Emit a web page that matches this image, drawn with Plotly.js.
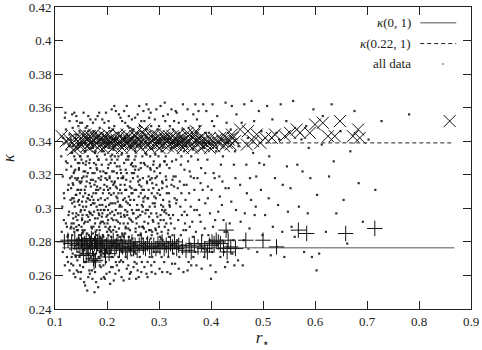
<!DOCTYPE html>
<html><head><meta charset="utf-8">
<script src="https://cdn.plot.ly/plotly-3.0.1.min.js"></script>
<style>html,body{margin:0;padding:0;background:#fff}#chart{width:482px;height:350px}</style>
</head><body><div id="chart"></div>
<script>
// all data: scattered (r*, kappa) points
const dotPairs = [
[0.117,0.309],[0.124,0.283],[0.112,0.331],[0.128,0.263],[0.121,0.347],[0.126,0.296],[0.115,0.274],[0.129,0.318],[0.119,0.354],[0.123,0.289],[0.127,0.337],[0.114,0.301],[0.125,0.268],[0.122,0.323],[0.118,0.279],[0.130,0.305],[0.116,0.342],[0.126,0.314],[0.121,0.291],[0.128,0.352],[0.113,0.286],[0.124,0.327],[0.119,0.266],[0.127,0.298],[0.122,0.335],[0.129,0.276],[0.115,0.319],[0.120,0.357],[0.125,0.284],[0.118,0.306],[0.123,0.271],[0.128,0.344],[0.117,0.293],[0.125,0.311],[0.121,0.328],[0.130,0.288],
[0.134,0.297],[0.142,0.263],[0.137,0.331],[0.148,0.284],[0.131,0.312],[0.145,0.349],[0.139,0.272],[0.133,0.356],[0.146,0.305],[0.141,0.289],[0.136,0.321],[0.149,0.258],[0.132,0.278],[0.144,0.338],[0.138,0.301],[0.147,0.316],[0.135,0.266],[0.143,0.293],[0.140,0.344],[0.131,0.325],[0.148,0.309],[0.137,0.286],[0.145,0.274],[0.133,0.303],[0.142,0.352],[0.139,0.318],[0.146,0.290],[0.134,0.337],[0.150,0.281],[0.136,0.261],[0.144,0.327],[0.141,0.308],[0.132,0.291],[0.147,0.346],[0.138,0.276],[0.135,0.314],[0.149,0.298],[0.143,0.269],[0.131,0.341],[0.140,0.295],[0.146,0.323],[0.137,0.357],[0.133,0.284],[0.148,0.331],[0.142,0.279],[0.136,0.306],[0.145,0.262],[0.139,0.329],[0.134,0.273],[0.147,0.302],[0.141,0.355],[0.132,0.319],[0.144,0.287],[0.138,0.342],[0.149,0.315],[0.135,0.294],[0.143,0.311],[0.131,0.267],[0.146,0.282],[0.137,0.322],[0.140,0.271],[0.148,0.351],[0.133,0.333],[0.145,0.296],[0.136,0.288],[0.142,0.317],[0.139,0.259],[0.147,0.327],[0.134,0.348],[0.144,0.304],
[0.163,0.331],[0.151,0.289],[0.158,0.254],[0.169,0.302],[0.155,0.344],[0.166,0.277],[0.152,0.318],[0.161,0.296],[0.157,0.268],[0.168,0.353],[0.154,0.307],[0.165,0.284],[0.159,0.326],[0.150,0.262],[0.167,0.315],[0.156,0.291],[0.162,0.349],[0.153,0.275],[0.170,0.336],[0.158,0.309],[0.164,0.259],[0.151,0.329],[0.160,0.281],[0.166,0.298],[0.155,0.357],[0.169,0.271],[0.152,0.304],[0.163,0.321],[0.157,0.287],[0.161,0.342],[0.154,0.265],[0.167,0.293],[0.159,0.313],[0.150,0.339],[0.165,0.308],[0.156,0.278],[0.168,0.324],[0.153,0.296],[0.162,0.251],[0.158,0.334],[0.170,0.289],[0.155,0.319],[0.164,0.346],[0.151,0.273],[0.160,0.301],[0.166,0.263],[0.157,0.311],[0.169,0.283],[0.152,0.351],[0.163,0.292],[0.159,0.268],[0.154,0.327],[0.167,0.305],[0.161,0.316],[0.156,0.256],[0.165,0.338],[0.153,0.285],[0.168,0.297],[0.158,0.322],[0.162,0.279],[0.150,0.311],[0.164,0.355],[0.157,0.299],[0.169,0.317],[0.155,0.282],[0.160,0.328],[0.166,0.270],[0.152,0.294],[0.163,0.306],[0.159,0.348],[0.154,0.286],[0.167,0.261],
[0.176,0.303],[0.184,0.271],[0.171,0.339],[0.189,0.292],[0.179,0.256],[0.173,0.317],[0.186,0.348],[0.181,0.284],[0.175,0.327],[0.188,0.265],[0.172,0.296],[0.183,0.311],[0.178,0.353],[0.185,0.279],[0.174,0.289],[0.190,0.334],[0.180,0.301],[0.177,0.262],[0.187,0.322],[0.182,0.294],[0.171,0.276],[0.184,0.343],[0.176,0.314],[0.189,0.258],[0.173,0.351],[0.186,0.287],[0.179,0.309],[0.175,0.268],[0.181,0.331],[0.188,0.299],[0.172,0.321],[0.183,0.253],[0.178,0.286],[0.185,0.357],[0.174,0.305],[0.190,0.274],[0.180,0.324],[0.177,0.291],[0.187,0.312],[0.182,0.339],[0.171,0.263],[0.184,0.297],[0.176,0.281],[0.189,0.319],[0.173,0.336],[0.186,0.266],[0.179,0.345],[0.175,0.298],[0.181,0.277],[0.188,0.306],[0.172,0.258],[0.183,0.329],[0.178,0.316],[0.185,0.289],[0.174,0.346],[0.190,0.295],[0.180,0.269],[0.177,0.333],[0.187,0.283],[0.182,0.355],[0.171,0.307],[0.184,0.318],[0.176,0.250],[0.189,0.341],[0.173,0.285],[0.186,0.302],[0.179,0.326],[0.175,0.272],[0.181,0.313],[0.188,0.282],
[0.197,0.318],[0.205,0.287],[0.192,0.344],[0.209,0.271],[0.201,0.306],[0.194,0.259],[0.207,0.331],[0.199,0.295],[0.203,0.352],[0.191,0.279],[0.206,0.312],[0.196,0.337],[0.210,0.298],[0.193,0.266],[0.202,0.324],[0.208,0.283],[0.198,0.357],[0.204,0.302],[0.195,0.291],[0.200,0.274],[0.207,0.346],[0.192,0.309],[0.205,0.262],[0.199,0.329],[0.203,0.288],[0.191,0.353],[0.209,0.316],[0.196,0.281],[0.201,0.339],[0.194,0.299],[0.206,0.255],[0.197,0.321],[0.210,0.277],[0.202,0.293],[0.193,0.334],[0.208,0.308],[0.198,0.268],[0.204,0.348],[0.195,0.314],[0.200,0.286],[0.191,0.297],[0.207,0.327],[0.203,0.273],[0.196,0.305],[0.209,0.359],[0.192,0.284],[0.205,0.319],[0.199,0.261],[0.201,0.296],[0.194,0.341],[0.206,0.289],[0.197,0.276],[0.210,0.332],[0.202,0.311],[0.193,0.322],[0.208,0.265],[0.198,0.301],[0.204,0.336],[0.195,0.351],[0.200,0.317],[0.192,0.292],[0.207,0.303],[0.203,0.326],[0.196,0.258],[0.209,0.294],[0.199,0.343],
[0.214,0.296],[0.222,0.331],[0.217,0.268],[0.228,0.309],[0.211,0.347],[0.225,0.283],[0.219,0.321],[0.213,0.257],[0.226,0.354],[0.221,0.292],[0.216,0.338],[0.229,0.274],[0.212,0.314],[0.224,0.301],[0.218,0.286],[0.227,0.343],[0.215,0.327],[0.223,0.263],[0.220,0.306],[0.211,0.279],[0.228,0.318],[0.217,0.358],[0.225,0.291],[0.213,0.335],[0.222,0.271],[0.219,0.312],[0.226,0.297],[0.214,0.349],[0.230,0.284],[0.216,0.261],[0.224,0.325],[0.221,0.304],[0.212,0.293],[0.227,0.269],[0.218,0.341],[0.215,0.316],[0.229,0.352],[0.223,0.288],[0.211,0.303],[0.220,0.329],[0.226,0.276],[0.217,0.299],[0.213,0.322],[0.228,0.259],[0.222,0.345],[0.216,0.281],[0.225,0.311],[0.219,0.266],[0.214,0.361],[0.227,0.295],[0.221,0.318],[0.212,0.337],[0.224,0.279],[0.218,0.307],[0.229,0.333],[0.215,0.289],[0.223,0.356],[0.211,0.265],[0.226,0.323],[0.220,0.284],[0.217,0.313],[0.228,0.301],
[0.236,0.323],[0.244,0.287],[0.231,0.305],[0.249,0.346],[0.238,0.264],[0.242,0.331],[0.234,0.295],[0.247,0.312],[0.233,0.358],[0.245,0.276],[0.239,0.339],[0.232,0.283],[0.248,0.299],[0.237,0.317],[0.243,0.258],[0.235,0.351],[0.246,0.326],[0.240,0.291],[0.231,0.268],[0.249,0.309],[0.238,0.344],[0.244,0.302],[0.233,0.327],[0.247,0.272],[0.236,0.289],[0.242,0.355],[0.234,0.314],[0.245,0.336],[0.239,0.279],[0.250,0.297],[0.232,0.341],[0.241,0.266],[0.237,0.304],[0.248,0.321],[0.235,0.285],[0.243,0.348],[0.246,0.293],[0.231,0.319],[0.240,0.331],[0.244,0.261],[0.233,0.296],[0.249,0.282],[0.238,0.361],[0.236,0.271],[0.247,0.337],[0.242,0.307],[0.234,0.342],[0.245,0.316],[0.239,0.298],[0.232,0.257],[0.248,0.353],[0.241,0.288],[0.237,0.329],[0.243,0.275],[0.235,0.311],[0.246,0.262],[0.250,0.325],[0.240,0.349],
[0.253,0.311],[0.262,0.276],[0.257,0.342],[0.268,0.298],[0.251,0.265],[0.265,0.327],[0.259,0.356],[0.255,0.288],[0.266,0.313],[0.261,0.259],[0.254,0.334],[0.269,0.282],[0.258,0.302],[0.263,0.349],[0.252,0.321],[0.267,0.268],[0.256,0.294],[0.264,0.338],[0.260,0.316],[0.270,0.306],[0.253,0.274],[0.262,0.361],[0.257,0.291],[0.268,0.331],[0.251,0.347],[0.265,0.285],[0.259,0.263],[0.255,0.325],[0.266,0.352],[0.261,0.299],[0.254,0.279],[0.269,0.318],[0.258,0.337],[0.263,0.271],[0.252,0.305],[0.267,0.343],[0.256,0.258],[0.264,0.296],[0.260,0.284],[0.270,0.358],[0.253,0.329],[0.262,0.314],[0.257,0.267],[0.268,0.289],[0.251,0.297],[0.265,0.309],[0.259,0.345],[0.255,0.273],[0.266,0.262],[0.261,0.323],[0.254,0.354],[0.269,0.301],
[0.274,0.297],[0.283,0.331],[0.278,0.268],[0.289,0.312],[0.272,0.352],[0.286,0.284],[0.280,0.319],[0.276,0.261],[0.287,0.343],[0.281,0.295],[0.273,0.326],[0.290,0.274],[0.279,0.306],[0.284,0.357],[0.271,0.288],[0.288,0.336],[0.277,0.315],[0.285,0.266],[0.282,0.301],[0.275,0.347],[0.289,0.292],[0.273,0.279],[0.280,0.339],[0.286,0.309],[0.278,0.259],[0.284,0.323],[0.271,0.311],[0.287,0.286],[0.276,0.362],[0.282,0.271],[0.290,0.328],[0.274,0.333],[0.279,0.291],[0.285,0.349],[0.272,0.265],[0.288,0.303],[0.277,0.282],[0.283,0.317],[0.275,0.299],[0.281,0.354],[0.286,0.262],[0.273,0.307],[0.289,0.341],[0.278,0.325],[0.284,0.287],[0.276,0.276],[0.280,0.359],[0.287,0.315],
[0.293,0.318],[0.302,0.283],[0.297,0.347],[0.308,0.301],[0.291,0.268],[0.305,0.334],[0.299,0.291],[0.295,0.359],[0.306,0.262],[0.301,0.325],[0.294,0.306],[0.309,0.278],[0.298,0.339],[0.303,0.296],[0.292,0.353],[0.307,0.315],[0.296,0.274],[0.304,0.344],[0.300,0.289],[0.310,0.328],[0.293,0.261],[0.302,0.308],[0.297,0.285],[0.308,0.355],[0.291,0.322],[0.305,0.271],[0.299,0.331],[0.295,0.297],[0.306,0.312],[0.301,0.264],[0.294,0.342],[0.309,0.293],[0.298,0.277],[0.303,0.361],[0.292,0.303],[0.307,0.336],[0.296,0.319],[0.304,0.282],[0.300,0.349],[0.310,0.268],[0.293,0.288],[0.302,0.326],[0.297,0.309],[0.306,0.299],
[0.314,0.297],[0.323,0.336],[0.318,0.271],[0.329,0.313],[0.312,0.352],[0.326,0.284],[0.320,0.324],[0.316,0.262],[0.327,0.347],[0.321,0.301],[0.313,0.331],[0.330,0.279],[0.319,0.309],[0.324,0.359],[0.311,0.289],[0.328,0.319],[0.317,0.342],[0.325,0.267],[0.322,0.294],[0.315,0.326],[0.329,0.352],[0.313,0.276],[0.320,0.304],[0.326,0.339],[0.318,0.287],[0.324,0.314],[0.311,0.363],[0.327,0.296],[0.316,0.344],[0.322,0.261],[0.330,0.306],[0.314,0.317],[0.319,0.283],[0.325,0.328],[0.312,0.299],[0.328,0.273],[0.317,0.356],[0.323,0.291],[0.315,0.309],[0.321,0.349],
[0.336,0.312],[0.344,0.278],[0.331,0.341],[0.349,0.298],[0.338,0.264],[0.342,0.326],[0.334,0.357],[0.347,0.287],[0.333,0.303],[0.345,0.347],[0.339,0.271],[0.332,0.319],[0.348,0.334],[0.337,0.293],[0.343,0.309],[0.335,0.281],[0.346,0.362],[0.340,0.316],[0.331,0.267],[0.349,0.323],[0.338,0.351],[0.344,0.296],[0.333,0.329],[0.347,0.262],[0.336,0.338],[0.342,0.284],[0.334,0.305],[0.345,0.274],[0.339,0.345],[0.350,0.291],[0.332,0.358],[0.341,0.301],[0.337,0.276],[0.348,0.314],[0.343,0.331],
[0.354,0.296],[0.362,0.331],[0.357,0.268],[0.368,0.311],[0.351,0.352],[0.365,0.283],[0.359,0.322],[0.355,0.263],[0.366,0.356],[0.361,0.301],[0.353,0.337],[0.369,0.274],[0.358,0.309],[0.363,0.345],[0.352,0.287],[0.367,0.318],[0.356,0.328],[0.364,0.292],[0.360,0.279],[0.370,0.362],[0.353,0.314],[0.362,0.266],[0.357,0.348],[0.368,0.299],[0.351,0.305],[0.365,0.335],[0.359,0.289],[0.355,0.359],[0.366,0.271],[0.361,0.319],
[0.374,0.318],[0.383,0.284],[0.378,0.349],[0.389,0.303],[0.372,0.266],[0.386,0.336],[0.380,0.292],[0.376,0.358],[0.387,0.271],[0.381,0.324],[0.373,0.299],[0.390,0.345],[0.379,0.278],[0.384,0.311],[0.371,0.341],[0.388,0.288],[0.377,0.305],[0.385,0.362],[0.382,0.264],[0.375,0.329],[0.389,0.321],[0.373,0.353],[0.380,0.315],[0.386,0.276],[0.378,0.296],[0.384,0.339],[0.371,0.286],
[0.394,0.306],[0.402,0.274],[0.397,0.339],[0.408,0.293],[0.391,0.358],[0.405,0.321],[0.399,0.266],[0.395,0.284],[0.406,0.349],[0.401,0.311],[0.393,0.329],[0.409,0.262],[0.398,0.297],[0.403,0.362],[0.392,0.275],[0.407,0.318],[0.396,0.345],[0.404,0.289],[0.400,0.258],[0.410,0.334],[0.394,0.313],[0.402,0.352],[0.398,0.281],
[0.414,0.298],[0.423,0.331],[0.418,0.271],[0.428,0.312],[0.412,0.355],[0.426,0.286],[0.420,0.341],[0.416,0.319],[0.427,0.265],[0.421,0.302],[0.413,0.278],[0.430,0.351],[0.419,0.326],[0.424,0.293],[0.411,0.336],[0.428,0.363],[0.417,0.307],[0.425,0.274],[0.422,0.316],
[0.434,0.312],[0.443,0.281],[0.438,0.347],[0.448,0.299],[0.432,0.268],[0.446,0.334],[0.440,0.361],[0.436,0.291],[0.447,0.318],[0.441,0.273],[0.433,0.339],[0.449,0.356],[0.439,0.304],[0.444,0.326],[0.431,0.286],[0.445,0.266],
[0.456,0.314],[0.463,0.281],[0.471,0.342],[0.484,0.296],[0.492,0.358],[0.452,0.269],[0.468,0.326],[0.477,0.305],[0.489,0.274],[0.459,0.351],[0.474,0.288],[0.481,0.333],[0.496,0.311],[0.465,0.297],[0.453,0.337],[0.487,0.319],[0.478,0.364],[0.461,0.266],[0.499,0.284],[0.469,0.309],[0.483,0.352],[0.457,0.292],[0.493,0.327],[0.472,0.276],[0.486,0.301],[0.464,0.362],[0.497,0.346],[0.475,0.318],
[0.504,0.296],[0.512,0.331],[0.527,0.277],[0.538,0.314],[0.545,0.352],[0.508,0.361],[0.519,0.289],[0.531,0.341],[0.548,0.298],[0.515,0.272],[0.523,0.318],[0.541,0.271],[0.502,0.326],[0.534,0.362],[0.511,0.306],[0.546,0.325],[0.526,0.345],[0.537,0.286],[0.518,0.353],[0.529,0.302],
[0.553,0.312],[0.561,0.283],[0.574,0.341],[0.586,0.297],[0.597,0.359],[0.566,0.326],[0.558,0.364],[0.579,0.274],[0.591,0.318],[0.569,0.301],[0.583,0.349],[0.555,0.289],[0.594,0.271],[0.576,0.322],[0.588,0.336],
[0.604,0.308],[0.613,0.338],[0.621,0.286],[0.632,0.362],[0.608,0.273],[0.627,0.319],[0.641,0.297],[0.649,0.346],[0.615,0.355],[0.636,0.328],[0.655,0.305],[0.662,0.279],[0.668,0.334],[0.676,0.358],[0.684,0.315],[0.692,0.292],[0.703,0.341],[0.716,0.311],[0.728,0.352],[0.781,0.356],[0.603,0.263],
[0.137,0.304],[0.143,0.281],[0.151,0.316],[0.158,0.292],[0.166,0.327],[0.172,0.269],[0.179,0.311],[0.185,0.296],[0.193,0.283],[0.199,0.321],[0.207,0.274],[0.213,0.309],[0.221,0.297],[0.228,0.332],[0.236,0.288],[0.244,0.313],[0.252,0.277],[0.259,0.319],[0.267,0.302],[0.275,0.286],[0.283,0.324],[0.291,0.307],[0.299,0.279],[0.306,0.316],[0.314,0.291],
[0.131,0.289],[0.139,0.323],[0.147,0.271],[0.154,0.301],[0.162,0.285],[0.169,0.313],[0.177,0.294],[0.184,0.329],[0.191,0.302],[0.198,0.276],[0.205,0.318],[0.212,0.287],[0.219,0.325],[0.227,0.281],[0.234,0.306],[0.241,0.329],[0.249,0.292],[0.256,0.311],[0.264,0.284],[0.271,0.327],[0.279,0.299],[0.287,0.271],[0.295,0.314],[0.303,0.293],[0.311,0.328],
[0.134,0.315],[0.141,0.297],[0.149,0.331],[0.156,0.276],[0.163,0.306],[0.171,0.288],[0.178,0.334],[0.186,0.274],[0.194,0.311],[0.201,0.291],[0.209,0.329],[0.216,0.303],[0.224,0.268],[0.231,0.318],[0.239,0.296],[0.246,0.275],[0.254,0.323],[0.261,0.307],[0.269,0.289],[0.277,0.316],[0.285,0.297],[0.293,0.332],[0.301,0.274],[0.308,0.305],[0.317,0.285],
[0.132,0.271],[0.140,0.308],[0.146,0.324],[0.153,0.287],[0.161,0.319],[0.168,0.297],[0.175,0.281],[0.183,0.305],[0.190,0.326],[0.197,0.289],[0.204,0.309],[0.211,0.271],[0.218,0.293],[0.226,0.314],[0.233,0.276],[0.240,0.303],[0.248,0.327],[0.255,0.286],[0.263,0.317],[0.270,0.275],[0.278,0.306],[0.286,0.318],[0.294,0.287],[0.302,0.321],[0.310,0.298],
[0.136,0.291],[0.144,0.318],[0.150,0.299],[0.157,0.334],[0.165,0.273],[0.173,0.303],[0.180,0.287],[0.188,0.317],[0.195,0.299],[0.203,0.284],[0.210,0.322],[0.217,0.279],[0.225,0.302],[0.232,0.291],[0.238,0.321],[0.245,0.305],[0.253,0.268],[0.260,0.295],[0.268,0.311],[0.276,0.332],[0.284,0.282],[0.292,0.301],[0.300,0.311],[0.307,0.281],[0.315,0.313],
[0.133,0.306],[0.142,0.287],[0.148,0.266],[0.155,0.322],[0.164,0.295],[0.170,0.276],[0.176,0.321],[0.182,0.299],[0.189,0.272],[0.196,0.332],[0.202,0.299],[0.208,0.286],[0.215,0.331],[0.222,0.309],[0.229,0.285],[0.237,0.311],[0.243,0.294],[0.250,0.318],[0.257,0.299],[0.265,0.324],[0.272,0.292],[0.280,0.311],[0.288,0.293],[0.296,0.324],[0.304,0.302],
[0.138,0.277],[0.145,0.311],[0.152,0.293],[0.160,0.304],[0.167,0.329],[0.174,0.309],[0.181,0.323],[0.187,0.291],[0.194,0.273],[0.200,0.313],[0.206,0.297],[0.214,0.315],[0.220,0.278],[0.227,0.321],[0.235,0.299],[0.242,0.283],[0.247,0.309],[0.255,0.331],[0.262,0.289],[0.270,0.304],[0.281,0.287],[0.289,0.326],[0.297,0.295],[0.305,0.286],[0.313,0.319],
[0.320,0.302],[0.326,0.317],[0.330,0.288],[0.319,0.296],[0.323,0.278]
];
// upper-band points (drawn as x marks)
const crossPairs = [
[0.113,0.343],[0.121,0.340],[0.127,0.341],[0.133,0.339],[0.138,0.342],[0.141,0.336],[0.144,0.340],[0.147,0.343],[0.150,0.338],[0.153,0.341],[0.156,0.339],[0.159,0.342],[0.161,0.337],[0.164,0.340],[0.167,0.343],[0.170,0.339],[0.173,0.341],[0.176,0.338],[0.179,0.342],[0.182,0.340],[0.185,0.337],[0.188,0.341],[0.191,0.339],[0.194,0.343],[0.197,0.340],[0.200,0.338],[0.203,0.341],[0.206,0.339],[0.209,0.342],[0.212,0.340],[0.215,0.337],[0.218,0.341],[0.221,0.339],[0.224,0.343],[0.227,0.340],[0.230,0.338],[0.233,0.341],[0.236,0.339],[0.239,0.342],[0.242,0.340],[0.245,0.338],[0.248,0.341],[0.251,0.339],[0.254,0.343],[0.257,0.340],[0.260,0.338],[0.263,0.341],[0.266,0.339],[0.269,0.345],[0.272,0.347],[0.275,0.340],[0.278,0.338],[0.281,0.342],[0.284,0.339],[0.287,0.344],[0.290,0.341],[0.293,0.338],[0.296,0.340],[0.299,0.343],[0.302,0.339],[0.305,0.341],[0.308,0.338],[0.311,0.342],[0.314,0.340],[0.317,0.337],[0.320,0.341],[0.323,0.339],[0.326,0.343],[0.329,0.340],[0.332,0.338],[0.335,0.341],[0.338,0.339],[0.341,0.342],[0.344,0.340],[0.347,0.338],[0.350,0.341],[0.353,0.339],[0.356,0.343],[0.359,0.340],[0.362,0.338],[0.365,0.342],[0.368,0.344],[0.371,0.346],[0.374,0.341],[0.377,0.339],[0.380,0.342],[0.383,0.340],[0.386,0.337],[0.390,0.341],[0.394,0.339],[0.398,0.342],[0.402,0.340],[0.406,0.337],[0.410,0.341],[0.414,0.339],[0.418,0.342],[0.422,0.340],[0.426,0.343],[0.430,0.339],[0.434,0.341],[0.438,0.338],[0.442,0.342],[0.446,0.340],
[0.135,0.335],[0.148,0.337],[0.158,0.344],[0.166,0.336],[0.175,0.344],[0.184,0.343],[0.193,0.336],[0.202,0.344],[0.211,0.336],[0.220,0.344],[0.229,0.336],[0.238,0.344],[0.247,0.336],[0.256,0.345],[0.265,0.336],[0.274,0.343],[0.283,0.336],[0.292,0.344],[0.301,0.336],[0.310,0.344],[0.319,0.343],[0.328,0.336],[0.337,0.344],[0.346,0.336],[0.355,0.345],[0.364,0.336],[0.380,0.336],[0.398,0.336],[0.425,0.337],[0.440,0.344],
[0.456,0.347],[0.469,0.338],[0.471,0.346],[0.481,0.340],[0.488,0.344],[0.495,0.339],[0.504,0.342],[0.517,0.342],[0.523,0.344],[0.542,0.343],[0.552,0.345],[0.565,0.347],[0.571,0.345],[0.590,0.345],[0.600,0.350],[0.615,0.351],[0.625,0.343],[0.638,0.343],[0.648,0.352],[0.673,0.343],[0.683,0.347],[0.686,0.342],[0.859,0.352]
];
// lower-band points (drawn as + marks)
const plusPairs = [
[0.118,0.280],[0.125,0.281],[0.132,0.279],[0.138,0.281],[0.142,0.278],[0.145,0.280],[0.148,0.276],[0.151,0.281],[0.153,0.278],[0.155,0.272],[0.157,0.279],[0.160,0.281],[0.162,0.277],[0.164,0.273],[0.166,0.280],[0.168,0.278],[0.170,0.282],[0.172,0.276],[0.174,0.270],[0.176,0.279],[0.178,0.281],[0.180,0.277],[0.182,0.279],[0.185,0.281],[0.187,0.276],[0.189,0.278],[0.192,0.280],[0.195,0.275],[0.197,0.271],[0.199,0.278],[0.202,0.280],[0.204,0.273],[0.206,0.277],[0.209,0.279],[0.212,0.281],[0.215,0.276],[0.218,0.278],[0.221,0.280],[0.224,0.275],[0.227,0.279],[0.230,0.277],[0.233,0.281],[0.236,0.276],[0.239,0.274],[0.242,0.279],[0.245,0.277],[0.248,0.280],[0.251,0.276],[0.254,0.278],[0.258,0.275],[0.262,0.278],[0.266,0.280],[0.270,0.277],[0.274,0.276],[0.278,0.279],[0.282,0.277],[0.286,0.276],[0.290,0.278],[0.294,0.276],[0.298,0.279],[0.302,0.277],[0.306,0.280],[0.310,0.276],[0.314,0.278],[0.318,0.276],[0.322,0.279],[0.326,0.277],[0.330,0.280],[0.334,0.276],[0.338,0.278],[0.345,0.277],[0.352,0.275],[0.358,0.278],[0.362,0.274],[0.368,0.279],[0.375,0.277],[0.382,0.279],[0.388,0.276],[0.393,0.274],[0.397,0.278],[0.402,0.280],[0.406,0.279],[0.410,0.281],[0.414,0.280],[0.418,0.279],[0.424,0.276],[0.429,0.287],[0.433,0.281],[0.431,0.274],[0.438,0.277],[0.447,0.276],[0.467,0.281],[0.500,0.281],[0.526,0.277],[0.568,0.287],[0.584,0.285],[0.659,0.285],[0.715,0.288],
[0.178,0.269],[0.160,0.272],[0.175,0.268]
];
// fitted lines kappa(0,1) and kappa(0.22,1)
const lineX = [0.114, 0.868];
const kappa01Y = [0.2765, 0.2765];
const kappa022Y = [0.339, 0.339];
// axis ticks
const xTickVals = [0.1, 0.2, 0.3, 0.4, 0.5, 0.6, 0.7, 0.8, 0.9];
const xTickText = ['0.1', '0.2', '0.3', '0.4', '0.5', '0.6', '0.7', '0.8', '0.9'];
const yTickVals = [0.24, 0.26, 0.28, 0.3, 0.32, 0.34, 0.36, 0.38, 0.4, 0.42];
const yTickText = ['0.24', '0.26', '0.28', '0.3', '0.32', '0.34', '0.36', '0.38', '0.4', '0.42'];
const legendLabels = ['<i>κ</i>(0, 1)', '<i>κ</i>(0.22, 1)', 'all data'];
const yTitle = '<i>κ</i>';
const xTitle = '<i>r</i><sub>⋆</sub>';

const FONT = '"Liberation Serif", "DejaVu Serif", serif';

const traces = [
  {x: dotPairs.map(p => p[0]), y: dotPairs.map(p => p[1]), type: 'scatter', mode: 'markers',
   marker: {symbol: 'square', size: 2.2, color: '#1a1a1a', opacity: 0.9, line: {width: 0}}, hoverinfo: 'skip'},
  {x: lineX, y: kappa01Y, type: 'scatter', mode: 'lines', line: {color: '#8c8c8c', width: 1.6}},
  {x: lineX, y: kappa022Y, type: 'scatter', mode: 'lines', line: {color: '#222', width: 1, dash: '4px,3px'}},
  {x: plusPairs.map(p => p[0]), y: plusPairs.map(p => p[1]), type: 'scatter', mode: 'markers',
   marker: {symbol: 'cross-thin-open', size: 11, color: '#111', line: {width: 1, color: '#111'}}},
  {x: crossPairs.map(p => p[0]), y: crossPairs.map(p => p[1]), type: 'scatter', mode: 'markers',
   marker: {symbol: 'x-thin-open', size: 12, color: '#111', line: {width: 1, color: '#111'}}}
];

const legendY = [0.948, 0.879, 0.812];
const annotations = legendLabels.map((t, i) => ({xref: 'paper', yref: 'paper', x: 0.860, y: legendY[i],
    xanchor: 'right', yanchor: 'middle', text: t, showarrow: false, font: {family: FONT, size: 13, color: '#222'}}));
annotations.push({xref: 'paper', yref: 'paper', x: -0.113, y: 0.5, xanchor: 'center', yanchor: 'middle',
    text: yTitle, textangle: -90, showarrow: false, font: {family: FONT, size: 16, color: '#222'}});

const layout = {
  width: 482, height: 350,
  margin: {l: 55, r: 11, t: 7, b: 41},
  paper_bgcolor: '#fff', plot_bgcolor: '#fff',
  showlegend: false,
  font: {family: FONT, size: 13, color: '#222'},
  xaxis: {range: [0.1, 0.9], tickvals: xTickVals, ticktext: xTickText, ticks: 'inside', ticklen: 8,
          tickcolor: '#222', showline: true, linecolor: '#222', linewidth: 1, mirror: 'allticks',
          showgrid: false, zeroline: false, ticklabeloverflow: 'allow',
          tickfont: {family: FONT, size: 13, color: '#222'},
          title: {text: xTitle, font: {family: FONT, size: 17}, standoff: 4}},
  yaxis: {range: [0.24, 0.42], tickvals: yTickVals, ticktext: yTickText, ticks: 'inside', ticklen: 8,
          tickcolor: '#222', showline: true, linecolor: '#222', linewidth: 1, mirror: 'allticks',
          showgrid: false, zeroline: false, ticklabeloverflow: 'allow',
          tickfont: {family: FONT, size: 13, color: '#222'}},
  annotations: annotations,
  shapes: [
    {type: 'line', xref: 'paper', yref: 'paper', x0: 0.878, x1: 0.9645, y0: legendY[0], y1: legendY[0], line: {color: '#8c8c8c', width: 1.6}},
    {type: 'line', xref: 'paper', yref: 'paper', x0: 0.878, x1: 0.9645, y0: legendY[1], y1: legendY[1], line: {color: '#222', width: 1, dash: '4px,3px'}},
    {type: 'rect', xref: 'paper', yref: 'paper', x0: 0.931, x1: 0.934, y0: legendY[2]-0.003, y1: legendY[2]+0.002, fillcolor: '#444', line: {width: 0}}
  ]
};
Plotly.newPlot('chart', traces, layout, {displayModeBar: false, staticPlot: true});
</script></body></html>
